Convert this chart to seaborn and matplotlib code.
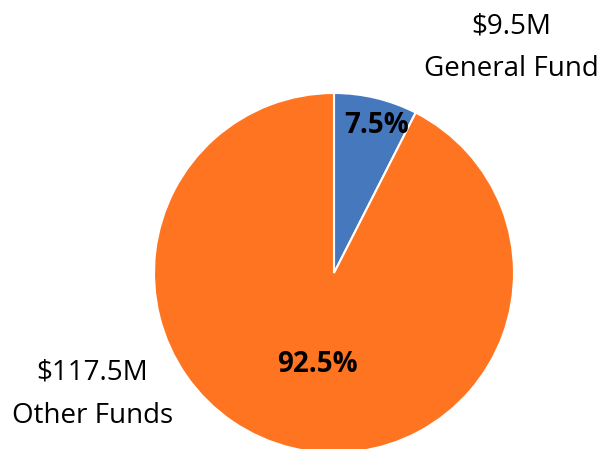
import matplotlib
matplotlib.use("Agg")
import matplotlib.pyplot as plt
import seaborn as sns
import numpy as np

sns.set_theme(style="white")
plt.rcParams['font.family'] = ['Open Sans', 'DejaVu Sans']

categories = ["General Fund", "Other Funds"]
amounts = ["$9.5M", "$117.5M"]
shares = [7.5, 92.5]
colors = ["#4678BE", "#FF7420"]

fig = plt.figure(figsize=(6.11, 4.49), dpi=100)
W, H = 611, 449
cx, cy, r = 334, 449 - 273, 180
ax = fig.add_axes([(cx - r) / W, (cy - r) / H, 2 * r / W, 2 * r / H])

wedges, _ = ax.pie(shares, colors=colors, startangle=90, counterclock=False,
                   radius=1, wedgeprops=dict(edgecolor="white", linewidth=1.5))
ax.set_xlim(-1, 1)
ax.set_ylim(-1, 1)
ax.set_aspect("equal")
ax.axis("off")

pct_pos = [(0.239, 0.822), (-0.094, -0.511)]
outer_pos = [(0.983, 1.252), (-1.344, -0.675)]
for s, (px, py), amt, cat, (ox, oy) in zip(shares, pct_pos, amounts, categories, outer_pos):
    ax.text(px, py, f"{s:.1f}%", ha="center", va="center",
            fontsize=20, fontweight="bold", color="black")
    ax.text(ox, oy, f"{amt}\n{cat}", ha="center", va="center", fontsize=20,
            color="black", linespacing=1.72, clip_on=False)

fig.savefig("out.png", dpi=100)
